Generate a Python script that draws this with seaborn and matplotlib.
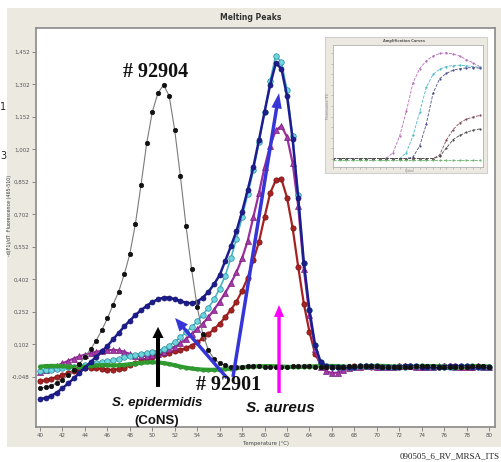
import matplotlib
matplotlib.use("Agg")
import matplotlib.pyplot as plt
from matplotlib.patches import Rectangle
import numpy as np
import seaborn as sns

# melting peaks, -d(F1)/dT read every 0.5 degC from 40 to 80
temps = np.arange(40.0, 80.01, 0.5)

black_92904 = [
    -0.100, -0.095, -0.088, -0.075, -0.060, -0.040, -0.015, 0.012, 0.045, 0.080,
    0.120, 0.168, 0.222, 0.285, 0.345, 0.425, 0.520, 0.660, 0.840, 1.030,
    1.175, 1.262, 1.300, 1.250, 1.090, 0.880, 0.650, 0.450, 0.275, 0.150,
    0.075, 0.035, 0.015, 0.005, 0.000, -0.002, 0.000, 0.002, 0.003, 0.002,
    0.000, -0.002, -0.003, -0.002, 0.000, 0.001, 0.002, 0.002, 0.001, 0.000,
    0.000, -0.001, -0.002, -0.002, 0.000, 0.002, 0.003, 0.004, 0.003, 0.002,
    0.001, 0.000, -0.001, -0.002, -0.002, -0.001, 0.000, 0.001, 0.002, 0.002,
    0.001, 0.000, 0.000, -0.001, -0.002, -0.001, 0.000, 0.001, 0.002, 0.001,
    0.000,
]
blue_92901 = [
    -0.150, -0.145, -0.135, -0.120, -0.100, -0.078, -0.055, -0.030, -0.005, 0.020,
    0.045, 0.070, 0.095, 0.125, 0.155, 0.185, 0.212, 0.238, 0.260, 0.280,
    0.298, 0.310, 0.318, 0.318, 0.311, 0.302, 0.295, 0.292, 0.300, 0.318,
    0.345, 0.380, 0.422, 0.488, 0.555, 0.625, 0.715, 0.815, 0.920, 1.045,
    1.175, 1.300, 1.400, 1.375, 1.250, 1.050, 0.780, 0.480, 0.260, 0.100,
    0.020, 0.002, 0.000, -0.001, -0.002, -0.002, 0.000, 0.002, 0.003, 0.002,
    0.001, 0.000, -0.001, -0.001, 0.000, 0.001, 0.002, 0.001, 0.000, -0.001,
    -0.002, -0.001, 0.000, 0.001, 0.002, 0.002, 0.001, 0.000, -0.001, 0.000,
    0.000,
]
cyan_aureus = [
    -0.020, -0.018, -0.015, -0.012, -0.008, -0.004, 0.000, 0.004, 0.008, 0.012,
    0.016, 0.020, 0.025, 0.030, 0.036, 0.042, 0.048, 0.054, 0.060, 0.064,
    0.068, 0.073, 0.082, 0.097, 0.115, 0.135, 0.158, 0.183, 0.208, 0.240,
    0.272, 0.310, 0.360, 0.420, 0.500, 0.590, 0.690, 0.795, 0.905, 1.035,
    1.175, 1.320, 1.435, 1.405, 1.275, 1.065, 0.790, 0.480, 0.260, 0.100,
    0.020, 0.003, 0.000, -0.001, -0.002, -0.001, 0.000, 0.001, 0.002, 0.002,
    0.001, 0.000, -0.001, -0.002, -0.001, 0.000, 0.001, 0.002, 0.001, 0.000,
    0.000, -0.001, -0.002, -0.001, 0.000, 0.001, 0.002, 0.001, 0.000, 0.000,
    0.000,
]
purple_aureus = [
    -0.025, -0.018, -0.008, 0.003, 0.015, 0.026, 0.037, 0.047, 0.055, 0.062,
    0.068, 0.072, 0.075, 0.077, 0.075, 0.068, 0.058, 0.050, 0.048, 0.050,
    0.055, 0.060, 0.068, 0.079, 0.092, 0.108, 0.127, 0.150, 0.172, 0.198,
    0.228, 0.262, 0.300, 0.340, 0.385, 0.435, 0.500, 0.580, 0.690, 0.800,
    0.920, 1.020, 1.090, 1.110, 1.060, 0.940, 0.740, 0.450, 0.240, 0.080,
    0.000, -0.022, -0.030, -0.028, -0.018, -0.008, -0.002, 0.000, 0.001, 0.001,
    0.000, -0.001, -0.001, 0.000, 0.001, 0.002, 0.001, 0.000, -0.001, -0.001,
    0.000, 0.001, 0.002, 0.001, 0.000, -0.001, -0.001, 0.000, 0.001, 0.000,
    0.000,
]
red_aureus = [
    -0.068, -0.062, -0.056, -0.048, -0.040, -0.030, -0.020, -0.012, -0.006, -0.005,
    -0.007, -0.011, -0.014, -0.015, -0.012, -0.005, 0.005, 0.015, 0.026, 0.037,
    0.046, 0.052, 0.058, 0.064, 0.070, 0.076, 0.085, 0.097, 0.112, 0.130,
    0.150, 0.172, 0.198, 0.228, 0.262, 0.300, 0.350, 0.410, 0.490, 0.575,
    0.690, 0.800, 0.860, 0.865, 0.780, 0.640, 0.460, 0.290, 0.160, 0.060,
    0.010, 0.000, -0.002, -0.003, -0.002, 0.000, 0.002, 0.003, 0.002, 0.000,
    -0.001, -0.002, -0.001, 0.000, 0.001, 0.002, 0.001, 0.000, -0.001, -0.002,
    -0.001, 0.000, 0.001, 0.002, 0.001, 0.000, -0.001, 0.000, 0.001, 0.000,
    0.000,
]
green_ntc = [
    0.000, 0.002, 0.003, 0.003, 0.002, 0.000, -0.002, -0.002, 0.000, 0.003,
    0.005, 0.006, 0.006, 0.005, 0.006, 0.008, 0.011, 0.014, 0.017, 0.019,
    0.020, 0.019, 0.016, 0.012, 0.006, 0.000, -0.005, -0.009, -0.012, -0.014,
    -0.015, -0.015, -0.014, -0.012, -0.010, -0.007, -0.004, -0.002, 0.000, 0.001,
    0.002, 0.002, 0.001, 0.000, -0.001, -0.002, -0.002, -0.001, 0.000, 0.001,
    0.002, 0.003, 0.003, 0.002, 0.000, -0.002, -0.003, -0.002, 0.000, 0.002,
    0.003, 0.003, 0.002, 0.000, -0.001, -0.002, -0.001, 0.000, 0.001, 0.002,
    0.002, 0.001, 0.000, -0.001, -0.002, -0.002, 0.000, 0.001, 0.002, 0.001,
    0.000,
]

yticks = [-0.048, 0.102, 0.252, 0.402, 0.552, 0.702, 0.852, 1.002, 1.152, 1.302, 1.452]
xticks = list(range(40, 81, 2))

# inset: amplification curves, every 2nd cycle
cycles = list(range(0, 45, 2))
amp_purple = [0, 0, 0, 0, 0, 0, 0, 0, 0.05, 0.55, 2.15, 4.5, 7.2, 8.55, 9.3, 9.75, 10.0, 10.06, 9.95, 9.75, 9.42, 9.1, 8.75]
amp_cyan = [0, 0, 0, 0, 0, 0, 0, 0, 0, 0, 0.0, 0.55, 2.2, 4.4, 6.8, 8.0, 8.5, 8.75, 8.85, 8.88, 8.82, 8.75, 8.68]
amp_blue = [0, 0, 0, 0, 0, 0, 0, 0, 0, 0, 0, 0.0, 0.15, 1.2, 3.3, 6.2, 7.6, 8.1, 8.4, 8.55, 8.62, 8.65, 8.6]
amp_red = [0, 0, 0, 0, 0, 0, 0, 0, 0, 0, 0, 0, 0, 0, 0, 0.0, 0.35, 1.75, 2.75, 3.4, 3.75, 3.95, 4.1]
amp_black = [0, 0, 0, 0, 0, 0, 0, 0, 0, 0, 0, 0, 0, 0, 0, 0.0, 0.2, 1.0, 1.8, 2.2, 2.5, 2.7, 2.82]
amp_green = [-0.15] * len(cycles)

W, H = 501, 462


def fx(px):
    return px / W


def fy(py):
    return 1 - py / H


sns.set_style("white")
fig = plt.figure(figsize=(W / 100, H / 100), dpi=100)
fig.patch.set_facecolor("white")

# beige window panel
fig.patches.append(Rectangle((fx(7), fy(447)), fx(494), 439 / H, transform=fig.transFigure,
                             facecolor="#ece9e1", edgecolor="none", zorder=-5))

ax = fig.add_axes([fx(36), fy(427), fx(459), 399 / H])
ax.set_facecolor("white")

series = [
    # values, line colour, marker, marker size, face, edge, line width, zorder
    (red_aureus, "#a52222", "o", 3.8, "#a52222", "#7a1010", 1.6, 2),
    (purple_aureus, "#9c2f9e", "^", 4.0, "#a53aa8", "#7a1f7c", 1.6, 3),
    (cyan_aureus, "#47b4c4", "o", 4.0, "#6fd6de", "#23899c", 1.2, 4),
    (green_ntc, "#33a133", "o", 2.5, "#33a133", "#2a8a2a", 3.0, 5),
    (blue_92901, "#1d1d8f", "o", 3.6, "#1d1d8f", "#14146e", 1.8, 6),
    (black_92904, "#7a7a7a", "o", 3.2, "#111111", "#111111", 0.8, 7),
]
for vals, col, mk, ms, mfc, mec, lw, z in series:
    sns.lineplot(x=temps, y=vals, ax=ax, color=col, linewidth=lw, marker=mk,
                 markersize=ms, markerfacecolor=mfc, markeredgecolor=mec,
                 markeredgewidth=0.5, errorbar=None, sort=False, zorder=z)

ax.set_xlim(39.64, 80.53)
ax.set_ylim(-0.279, 1.5625)
ax.set_xticks(xticks)
ax.set_xticklabels([str(t) for t in xticks])
ax.set_yticks(yticks)
ax.set_yticklabels([f"{v:.3f}".replace(".", ",") for v in yticks])
ax.tick_params(direction="out", length=3, width=0.6, color="#777777", labelsize=4,
               labelcolor="#555555", pad=1.5, bottom=True, left=True)
for sp in ax.spines.values():
    sp.set_color("#8a8a8a")
    sp.set_linewidth(1.2)
ax.set_xlabel("")
ax.set_ylabel("")

fig.text(fx(251), fy(17), "Melting Peaks", ha="center", va="center", fontsize=5.5,
         fontweight="bold", color="#333333")
fig.text(fx(10), fy(215), "-d(F1)/dT  Fluorescence (465-510)", rotation=90, ha="center",
         va="center", fontsize=3.4, color="#444444")
fig.text(fx(266), fy(443), "Temperature (\u00b0C)", ha="center", va="center", fontsize=3.8,
         color="#444444")
fig.text(fx(500), fy(456), "090505_6_RV_MRSA_ITS", ha="right", va="center", fontsize=6.5,
         family="Liberation Serif", color="#222222")
fig.text(fx(0), fy(107), "1", ha="left", va="center", fontsize=7, color="#222222")
fig.text(fx(0), fy(156), "3", ha="left", va="center", fontsize=7, color="#222222")

# annotations
serif = dict(family="Liberation Serif", fontweight="bold", color="#111111")
sans = dict(family="Liberation Sans", fontweight="bold", color="#111111")
ax.text(50.33, 1.359, "# 92904", ha="center", va="center", fontsize=14.5, zorder=20, **serif)
ax.text(56.75, -0.085, "# 92901", ha="center", va="center", fontsize=14.5, zorder=20, **serif)
ax.text(50.42, -0.170, "S. epidermidis", ha="center", va="center", fontsize=9.5,
        style="italic", zorder=20, clip_on=False, **sans)
ax.text(50.42, -0.251, "(CoNS)", ha="center", va="center", fontsize=9.5, zorder=20,
        clip_on=False, **sans)
ax.text(61.38, -0.191, "S. aureus", ha="center", va="center", fontsize=11,
        style="italic", zorder=20, **sans)


def arrow(tail, tip, color, tw, hw, hl):
    ax.annotate("", xy=tip, xytext=tail, zorder=15,
                arrowprops=dict(arrowstyle=f"simple,head_width={hw},head_length={hl},tail_width={tw}",
                                color=color, lw=0, shrinkA=0, shrinkB=0, mutation_scale=10))


arrow((50.51, -0.094), (50.51, 0.183), "#000000", 0.29, 0.8, 0.8)
arrow((61.29, -0.122), (61.29, 0.284), "#ff00ff", 0.24, 0.72, 0.86)
arrow((56.66, -0.053), (52.03, 0.224), "#3535d8", 0.25, 0.8, 0.95)
arrow((57.19, -0.048), (61.29, 1.262), "#3535d8", 0.25, 0.75, 1.1)

# inset: amplification curves screenshot
frame = fig.add_axes([fx(325), fy(173), fx(162), 136 / H])
frame.set_facecolor("#ece9e1")
frame.set_xticks([])
frame.set_yticks([])
for sp in frame.spines.values():
    sp.set_color("#d0d0d0")
    sp.set_linewidth(0.8)
frame.set_zorder(30)

ins = fig.add_axes([fx(333), fy(167), fx(150), 122 / H])
ins.set_zorder(31)
ins.set_facecolor("white")
amp = [
    (amp_purple, "#b56cbb"), (amp_cyan, "#4fb9c2"), (amp_blue, "#4d4f86"),
    (amp_red, "#7d4a52"), (amp_black, "#4a4a4a"), (amp_green, "#6fb46f"),
]
for vals, col in amp:
    sns.lineplot(x=cycles, y=vals, ax=ins, color=col, linewidth=0.6, linestyle="--",
                 marker="o", markersize=1.6, markeredgecolor=col, markerfacecolor=col,
                 markeredgewidth=0, errorbar=None, sort=False)
ins.set_xlim(0, 45)
ins.set_ylim(-0.8, 10.8)
ins.set_xticks(range(0, 46, 2))
ins.set_yticks(range(0, 11))
ins.set_xticklabels([])
ins.set_yticklabels([])
ins.tick_params(direction="out", length=1.5, width=0.4, color="#999999", bottom=True, left=True)
for sp in ins.spines.values():
    sp.set_color("#b0b0b0")
    sp.set_linewidth(0.6)
ins.set_xlabel("")
ins.set_ylabel("")
fig.text(fx(404), fy(41), "Amplification Curves", ha="center", va="center", fontsize=2.6,
         fontweight="bold", color="#555555", zorder=40)
fig.text(fx(328), fy(106), "Fluorescence (F1)", rotation=90, ha="center", va="center",
         fontsize=2.2, color="#777777", zorder=40)
fig.text(fx(410), fy(171), "Cycles", ha="center", va="center", fontsize=2.2,
         color="#777777", zorder=40)

fig.savefig("out.png", dpi=100)
